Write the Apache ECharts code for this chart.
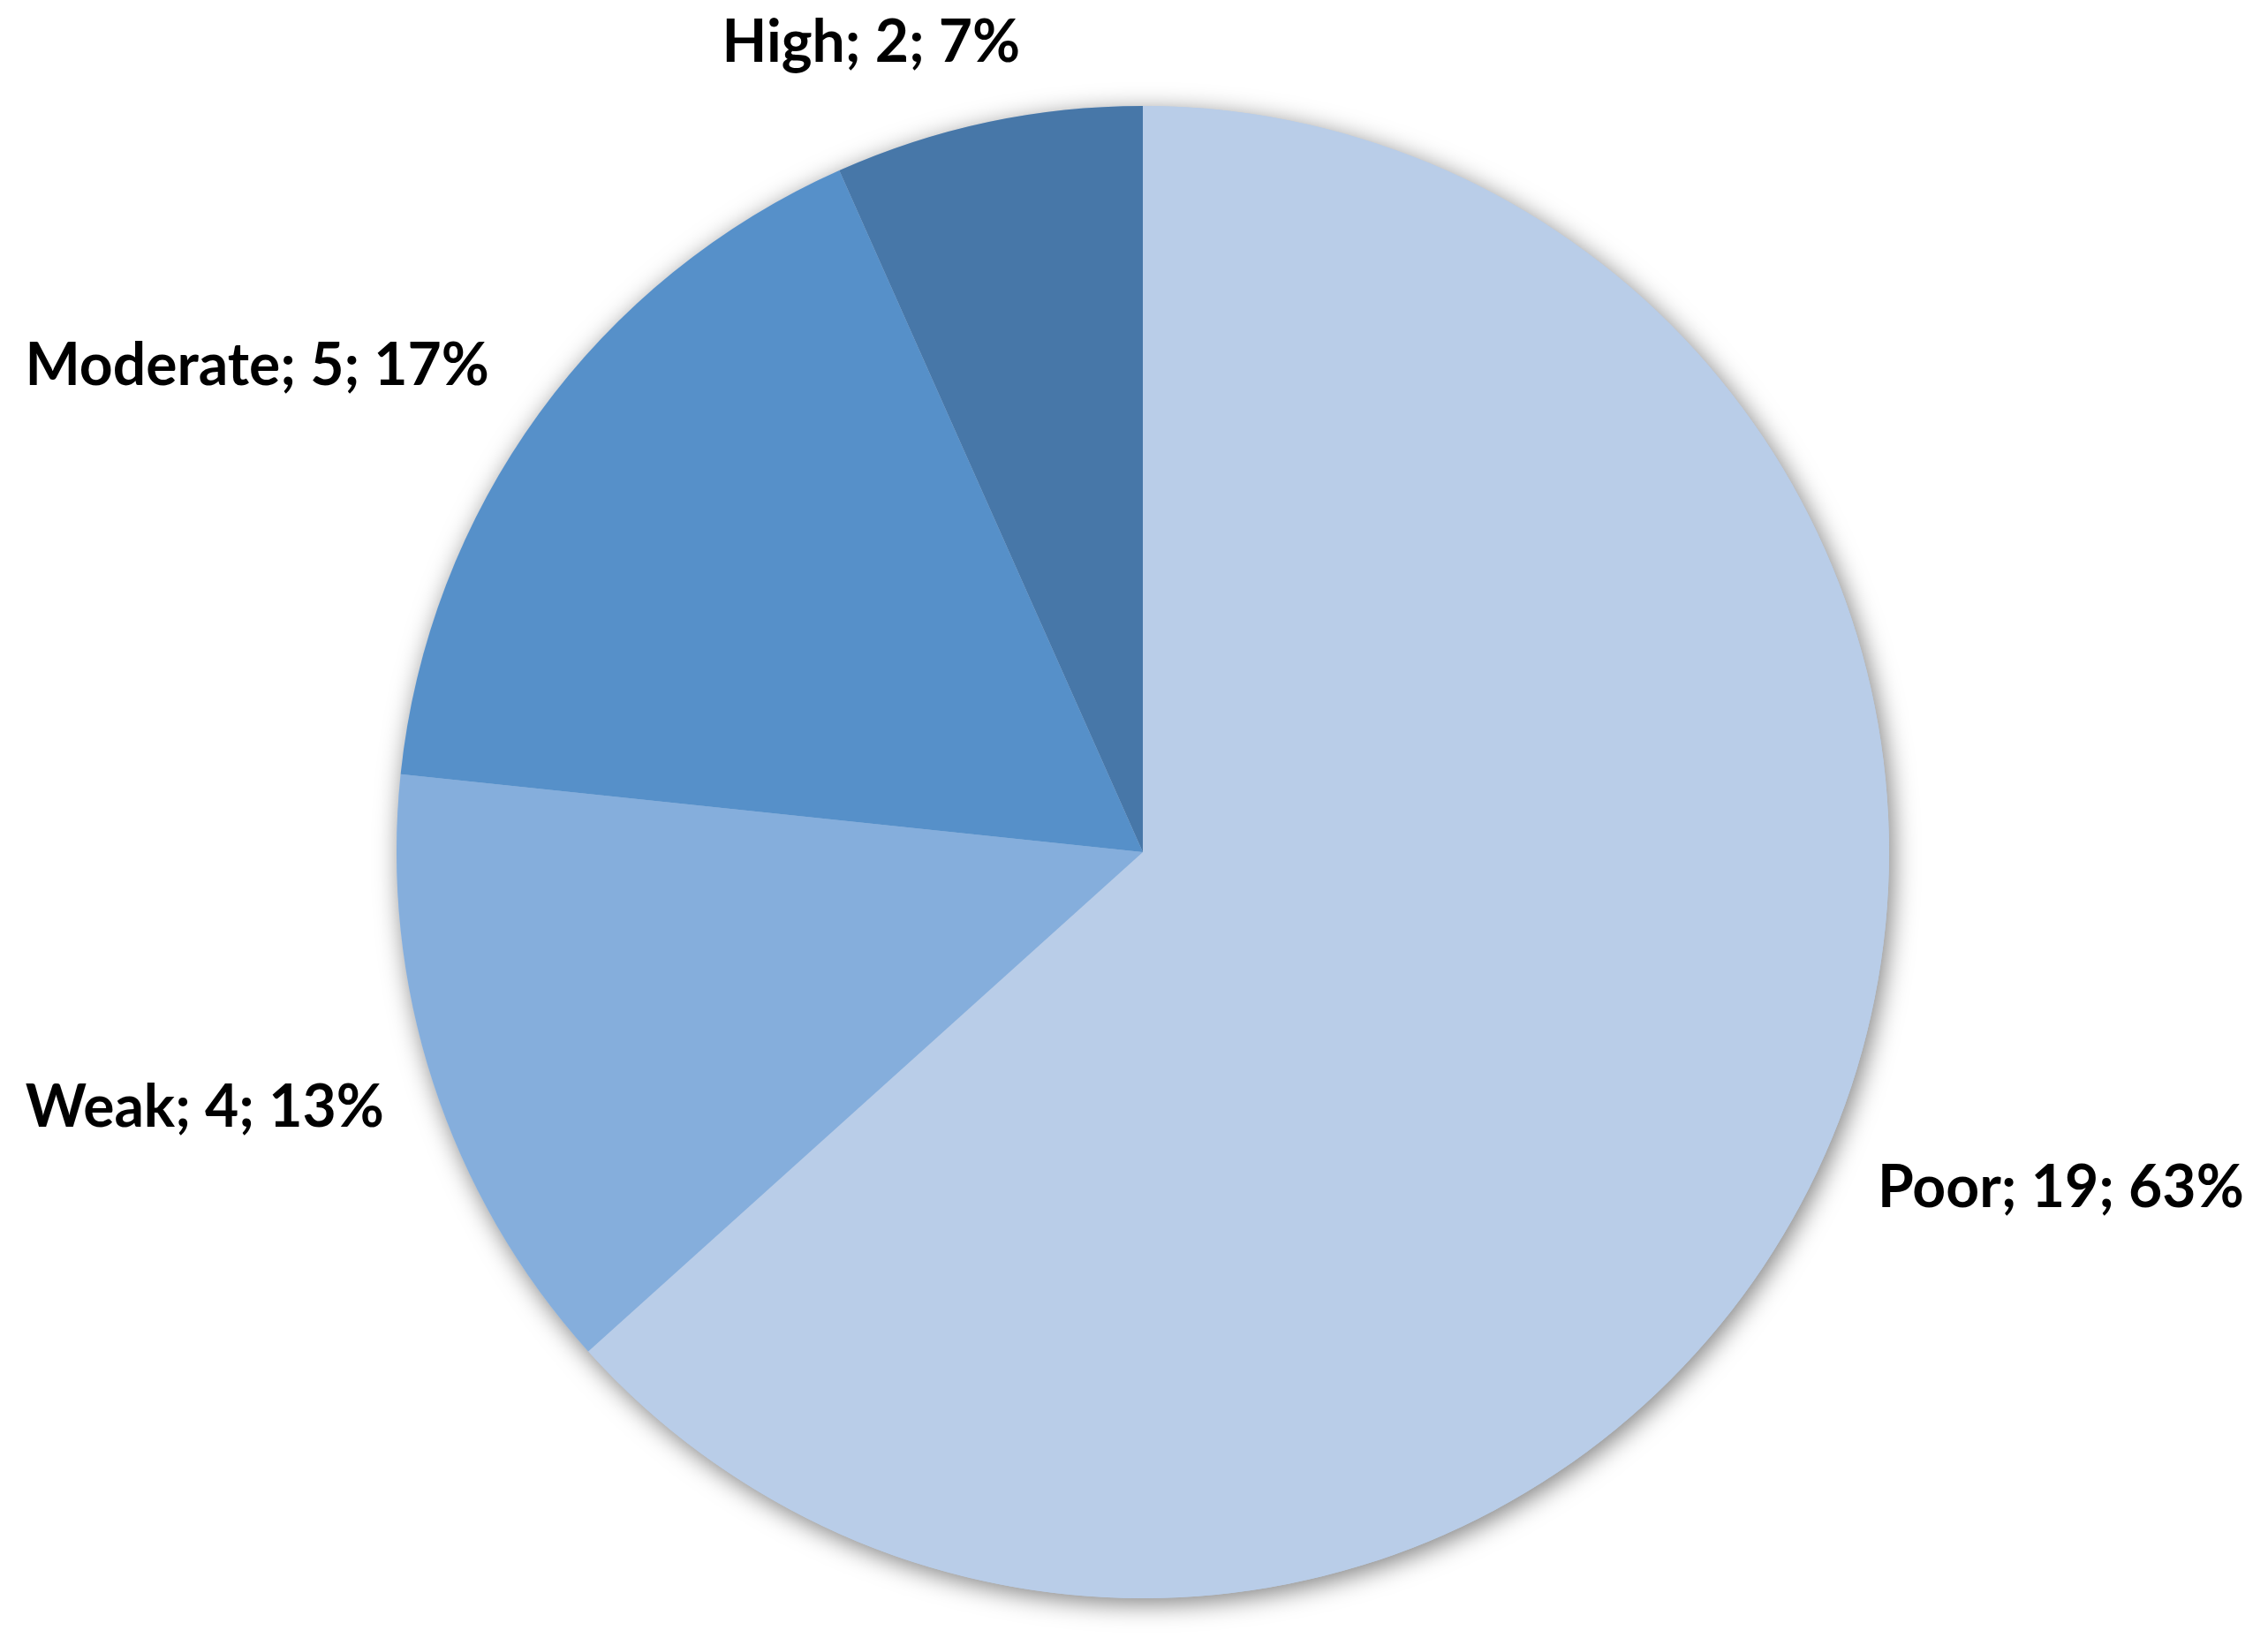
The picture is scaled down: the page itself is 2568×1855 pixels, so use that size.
<!DOCTYPE html>
<html>
<head>
<meta charset="utf-8">
<script src="https://cdn.jsdelivr.net/npm/echarts@6/dist/echarts.min.js"></script>
<style>
html,body{margin:0;padding:0;background:#fff;}
#chart{width:2568px;height:1855px;}
</style>
</head>
<body>
<div id="chart"></div>
<script>
const categories = ['Poor', 'Weak', 'Moderate', 'High'];
const counts = [19, 4, 5, 2];
const percents = ['63%', '13%', '17%', '7%'];
const colors = ['#B9CDE8', '#85AEDC', '#5690C9', '#4777A8'];
const labelOffsets = [[-24, 0], [32, 0], [18, 0], [56, 0]];

const chart = echarts.init(document.getElementById('chart'));
const center = [1294, 965];
const radius = 845;

const data = categories.map((c, i) => ({
  name: c,
  value: counts[i],
  itemStyle: { color: colors[i] },
  label: { offset: labelOffsets[i] }
}));

chart.setOption({
  backgroundColor: '#ffffff',
  animation: false,
  series: [
    {
      type: 'pie',
      silent: true,
      center: center,
      radius: radius,
      z: 1,
      label: { show: false },
      labelLine: { show: false },
      data: [{ value: 1, itemStyle: { color: '#B9CDE8', shadowBlur: 28, shadowColor: 'rgba(0,0,0,0.5)', shadowOffsetX: 4, shadowOffsetY: 6 } }]
    },
    {
      type: 'pie',
      center: center,
      radius: radius,
      startAngle: 90,
      clockwise: true,
      z: 2,
      avoidLabelOverlap: false,
      itemStyle: { borderWidth: 0 },
      label: {
        show: true,
        position: 'outside',
        distanceToLabelLine: 0,
        formatter: p => p.name + '; ' + p.value + '; ' + percents[p.dataIndex],
        fontFamily: 'Lato',
        fontWeight: 'bold',
        fontSize: 66,
        color: '#000000'
      },
      labelLine: { show: false, length: 92, length2: 0 },
      data: data
    }
  ]
});
</script>
</body>
</html>
